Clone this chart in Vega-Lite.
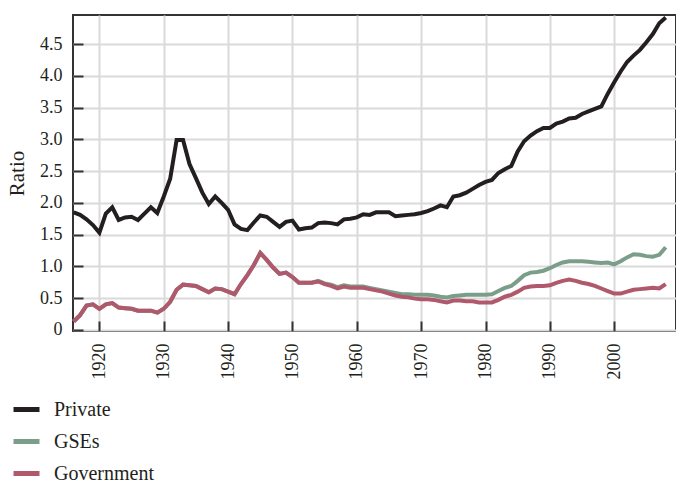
{
  "$schema": "https://vega.github.io/schema/vega-lite/v6.json",
  "autosize": {"type": "none"},
  "padding": {"left": 73, "top": 15, "right": 0, "bottom": 153},
  "width": 603,
  "height": 316,
  "config": {
    "font": "Liberation Serif",
    "view": {"stroke": "#333333", "strokeWidth": 2},
    "axis": {
      "domain": false,
      "gridColor": "#dadada",
      "gridWidth": 2,
      "tickColor": "#333333",
      "tickWidth": 2,
      "labelFont": "Liberation Serif",
      "labelFontSize": 18,
      "labelColor": "#231f20",
      "titleFont": "Liberation Serif",
      "titleFontSize": 21,
      "titleFontWeight": "normal",
      "titleColor": "#231f20"
    },
    "legend": {
      "labelFont": "Liberation Serif",
      "labelFontSize": 20,
      "labelColor": "#231f20"
    }
  },
  "data": {
    "values": [
      {"year": 1916, "Private": 1.85, "GSEs": 0.13, "Government": 0.13},
      {"year": 1917, "Private": 1.81, "GSEs": 0.23, "Government": 0.23},
      {"year": 1918, "Private": 1.74, "GSEs": 0.38, "Government": 0.38},
      {"year": 1919, "Private": 1.65, "GSEs": 0.40, "Government": 0.40},
      {"year": 1920, "Private": 1.53, "GSEs": 0.33, "Government": 0.33},
      {"year": 1921, "Private": 1.83, "GSEs": 0.40, "Government": 0.40},
      {"year": 1922, "Private": 1.93, "GSEs": 0.42, "Government": 0.42},
      {"year": 1923, "Private": 1.73, "GSEs": 0.35, "Government": 0.35},
      {"year": 1924, "Private": 1.77, "GSEs": 0.34, "Government": 0.34},
      {"year": 1925, "Private": 1.78, "GSEs": 0.33, "Government": 0.33},
      {"year": 1926, "Private": 1.73, "GSEs": 0.30, "Government": 0.30},
      {"year": 1927, "Private": 1.83, "GSEs": 0.30, "Government": 0.30},
      {"year": 1928, "Private": 1.93, "GSEs": 0.30, "Government": 0.30},
      {"year": 1929, "Private": 1.84, "GSEs": 0.27, "Government": 0.27},
      {"year": 1930, "Private": 2.10, "GSEs": 0.33, "Government": 0.33},
      {"year": 1931, "Private": 2.38, "GSEs": 0.44, "Government": 0.44},
      {"year": 1932, "Private": 2.99, "GSEs": 0.63, "Government": 0.63},
      {"year": 1933, "Private": 2.99, "GSEs": 0.71, "Government": 0.71},
      {"year": 1934, "Private": 2.61, "GSEs": 0.70, "Government": 0.70},
      {"year": 1935, "Private": 2.39, "GSEs": 0.69, "Government": 0.69},
      {"year": 1936, "Private": 2.16, "GSEs": 0.64, "Government": 0.64},
      {"year": 1937, "Private": 1.98, "GSEs": 0.59, "Government": 0.59},
      {"year": 1938, "Private": 2.10, "GSEs": 0.65, "Government": 0.65},
      {"year": 1939, "Private": 2.00, "GSEs": 0.64, "Government": 0.64},
      {"year": 1940, "Private": 1.89, "GSEs": 0.60, "Government": 0.60},
      {"year": 1941, "Private": 1.66, "GSEs": 0.56, "Government": 0.56},
      {"year": 1942, "Private": 1.59, "GSEs": 0.72, "Government": 0.72},
      {"year": 1943, "Private": 1.57, "GSEs": 0.86, "Government": 0.86},
      {"year": 1944, "Private": 1.69, "GSEs": 1.02, "Government": 1.02},
      {"year": 1945, "Private": 1.80, "GSEs": 1.21, "Government": 1.21},
      {"year": 1946, "Private": 1.78, "GSEs": 1.10, "Government": 1.10},
      {"year": 1947, "Private": 1.70, "GSEs": 0.98, "Government": 0.98},
      {"year": 1948, "Private": 1.62, "GSEs": 0.88, "Government": 0.88},
      {"year": 1949, "Private": 1.70, "GSEs": 0.90, "Government": 0.90},
      {"year": 1950, "Private": 1.72, "GSEs": 0.83, "Government": 0.83},
      {"year": 1951, "Private": 1.58, "GSEs": 0.74, "Government": 0.74},
      {"year": 1952, "Private": 1.60, "GSEs": 0.74, "Government": 0.74},
      {"year": 1953, "Private": 1.61, "GSEs": 0.74, "Government": 0.74},
      {"year": 1954, "Private": 1.68, "GSEs": 0.77, "Government": 0.76},
      {"year": 1955, "Private": 1.69, "GSEs": 0.73, "Government": 0.72},
      {"year": 1956, "Private": 1.68, "GSEs": 0.71, "Government": 0.69},
      {"year": 1957, "Private": 1.66, "GSEs": 0.67, "Government": 0.65},
      {"year": 1958, "Private": 1.74, "GSEs": 0.70, "Government": 0.68},
      {"year": 1959, "Private": 1.75, "GSEs": 0.68, "Government": 0.66},
      {"year": 1960, "Private": 1.77, "GSEs": 0.68, "Government": 0.66},
      {"year": 1961, "Private": 1.82, "GSEs": 0.68, "Government": 0.66},
      {"year": 1962, "Private": 1.81, "GSEs": 0.66, "Government": 0.64},
      {"year": 1963, "Private": 1.85, "GSEs": 0.64, "Government": 0.62},
      {"year": 1964, "Private": 1.85, "GSEs": 0.62, "Government": 0.60},
      {"year": 1965, "Private": 1.85, "GSEs": 0.60, "Government": 0.57},
      {"year": 1966, "Private": 1.79, "GSEs": 0.58, "Government": 0.54},
      {"year": 1967, "Private": 1.80, "GSEs": 0.56, "Government": 0.52},
      {"year": 1968, "Private": 1.81, "GSEs": 0.56, "Government": 0.51},
      {"year": 1969, "Private": 1.82, "GSEs": 0.55, "Government": 0.49},
      {"year": 1970, "Private": 1.84, "GSEs": 0.55, "Government": 0.48},
      {"year": 1971, "Private": 1.87, "GSEs": 0.55, "Government": 0.48},
      {"year": 1972, "Private": 1.91, "GSEs": 0.54, "Government": 0.47},
      {"year": 1973, "Private": 1.96, "GSEs": 0.52, "Government": 0.45},
      {"year": 1974, "Private": 1.93, "GSEs": 0.51, "Government": 0.43},
      {"year": 1975, "Private": 2.10, "GSEs": 0.53, "Government": 0.46},
      {"year": 1976, "Private": 2.12, "GSEs": 0.54, "Government": 0.46},
      {"year": 1977, "Private": 2.16, "GSEs": 0.55, "Government": 0.45},
      {"year": 1978, "Private": 2.22, "GSEs": 0.55, "Government": 0.45},
      {"year": 1979, "Private": 2.28, "GSEs": 0.55, "Government": 0.43},
      {"year": 1980, "Private": 2.33, "GSEs": 0.55, "Government": 0.43},
      {"year": 1981, "Private": 2.36, "GSEs": 0.56, "Government": 0.43},
      {"year": 1982, "Private": 2.47, "GSEs": 0.61, "Government": 0.47},
      {"year": 1983, "Private": 2.53, "GSEs": 0.66, "Government": 0.52},
      {"year": 1984, "Private": 2.58, "GSEs": 0.69, "Government": 0.55},
      {"year": 1985, "Private": 2.81, "GSEs": 0.77, "Government": 0.60},
      {"year": 1986, "Private": 2.97, "GSEs": 0.86, "Government": 0.66},
      {"year": 1987, "Private": 3.06, "GSEs": 0.90, "Government": 0.68},
      {"year": 1988, "Private": 3.13, "GSEs": 0.91, "Government": 0.69},
      {"year": 1989, "Private": 3.18, "GSEs": 0.93, "Government": 0.69},
      {"year": 1990, "Private": 3.18, "GSEs": 0.97, "Government": 0.70},
      {"year": 1991, "Private": 3.25, "GSEs": 1.02, "Government": 0.74},
      {"year": 1992, "Private": 3.28, "GSEs": 1.06, "Government": 0.77},
      {"year": 1993, "Private": 3.33, "GSEs": 1.08, "Government": 0.79},
      {"year": 1994, "Private": 3.34, "GSEs": 1.08, "Government": 0.77},
      {"year": 1995, "Private": 3.40, "GSEs": 1.08, "Government": 0.74},
      {"year": 1996, "Private": 3.44, "GSEs": 1.07, "Government": 0.72},
      {"year": 1997, "Private": 3.48, "GSEs": 1.06, "Government": 0.69},
      {"year": 1998, "Private": 3.52, "GSEs": 1.05, "Government": 0.65},
      {"year": 1999, "Private": 3.72, "GSEs": 1.06, "Government": 0.61},
      {"year": 2000, "Private": 3.90, "GSEs": 1.03, "Government": 0.57},
      {"year": 2001, "Private": 4.07, "GSEs": 1.08, "Government": 0.57},
      {"year": 2002, "Private": 4.22, "GSEs": 1.14, "Government": 0.60},
      {"year": 2003, "Private": 4.32, "GSEs": 1.19, "Government": 0.63},
      {"year": 2004, "Private": 4.41, "GSEs": 1.18, "Government": 0.64},
      {"year": 2005, "Private": 4.53, "GSEs": 1.16, "Government": 0.65},
      {"year": 2006, "Private": 4.66, "GSEs": 1.15, "Government": 0.66},
      {"year": 2007, "Private": 4.83, "GSEs": 1.18, "Government": 0.65},
      {"year": 2008, "Private": 4.92, "GSEs": 1.30, "Government": 0.72}
    ]
  },
  "transform": [
    {"fold": ["Private", "GSEs", "Government"], "as": ["series", "value"]}
  ],
  "encoding": {
    "x": {
      "field": "year",
      "type": "quantitative",
      "scale": {"domain": [1915.9, 2009.6], "nice": false, "zero": false},
      "axis": {
        "title": null,
        "values": [1920, 1930, 1940, 1950, 1960, 1970, 1980, 1990, 2000],
        "format": "d",
        "ticks": true,
        "offset": -10,
        "tickSize": 10,
        "labelAngle": 270,
        "labelAlign": "right",
        "labelBaseline": "middle",
        "labelPadding": 12
      }
    },
    "y": {
      "field": "value",
      "type": "quantitative",
      "scale": {"domain": [-0.02, 4.96], "nice": false, "zero": false},
      "axis": {
        "title": "Ratio",
        "values": [0, 0.5, 1, 1.5, 2, 2.5, 3, 3.5, 4, 4.5],
        "labelExpr": "datum.value == 0 ? '0' : format(datum.value, '.1f')",
        "ticks": true,
        "offset": -10,
        "tickSize": 10,
        "labelPadding": 11,
        "titlePadding": 12
      }
    },
    "color": {
      "field": "series",
      "type": "nominal",
      "scale": {
        "domain": ["Private", "GSEs", "Government"],
        "range": ["#231f20", "#7b9e8a", "#b0586c"]
      },
      "legend": {
        "title": null,
        "orient": "none",
        "legendX": -62,
        "legendY": 379,
        "direction": "vertical",
        "symbolType": "stroke",
        "symbolStrokeWidth": 5,
        "symbolSize": 676,
        "labelOffset": 12,
        "rowPadding": 6,
        "padding": 0
      }
    }
  },
  "layer": [
    {
      "transform": [{"filter": "datum.series == 'Private'"}],
      "mark": {"type": "line", "strokeWidth": 4}
    },
    {
      "transform": [{"filter": "datum.series == 'GSEs'"}],
      "mark": {"type": "line", "strokeWidth": 4}
    },
    {
      "transform": [{"filter": "datum.series == 'Government'"}],
      "mark": {"type": "line", "strokeWidth": 4}
    }
  ]
}
